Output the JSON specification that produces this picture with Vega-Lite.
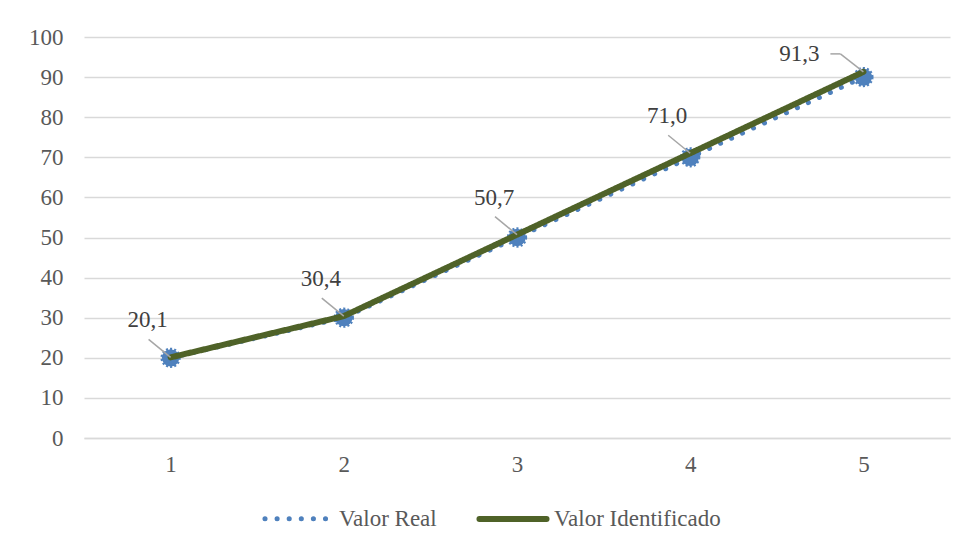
{
  "$schema": "https://vega.github.io/schema/vega-lite/v6.json",
  "width": 866,
  "height": 401,
  "autosize": {"type": "none"},
  "padding": {"left": 84, "top": 37, "right": 19, "bottom": 113},
  "background": "#ffffff",
  "config": {
    "view": {"stroke": null},
    "font": "Liberation Serif",
    "locale": {"number": {"decimal": ",", "thousands": ".", "grouping": [3], "currency": ["", " €"]}}
  },
  "data": {
    "values": [
      {"x": 1, "serie": "Valor Real", "valor": 20},
      {"x": 2, "serie": "Valor Real", "valor": 30},
      {"x": 3, "serie": "Valor Real", "valor": 50},
      {"x": 4, "serie": "Valor Real", "valor": 70},
      {"x": 5, "serie": "Valor Real", "valor": 90},
      {"x": 1, "serie": "Valor Identificado", "valor": 20.1},
      {"x": 2, "serie": "Valor Identificado", "valor": 30.4},
      {"x": 3, "serie": "Valor Identificado", "valor": 50.7},
      {"x": 4, "serie": "Valor Identificado", "valor": 71.0},
      {"x": 5, "serie": "Valor Identificado", "valor": 91.3}
    ]
  },
  "encoding": {
    "x": {
      "field": "x", "type": "quantitative",
      "scale": {"domain": [0.5, 5.5], "nice": false, "zero": false},
      "axis": {
        "title": null, "values": [1, 2, 3, 4, 5], "format": "d", "grid": false,
        "ticks": false, "domain": true, "domainColor": "#d9d9d9", "domainWidth": 1.3,
        "labelPadding": 15, "labelFontSize": 23, "labelFont": "Liberation Serif",
        "labelColor": "#595959"
      }
    },
    "y": {
      "field": "valor", "type": "quantitative",
      "scale": {"domain": [0, 100], "nice": false},
      "axis": {
        "title": null, "values": [0, 10, 20, 30, 40, 50, 60, 70, 80, 90, 100],
        "grid": true, "gridColor": "#d9d9d9", "gridWidth": 1.3,
        "ticks": false, "domain": false, "labelPadding": 21,
        "labelFontSize": 23, "labelFont": "Liberation Serif", "labelColor": "#595959"
      }
    }
  },
  "layer": [
    {
      "transform": [{"filter": "datum.serie === 'Valor Real'"}],
      "mark": {"type": "line", "strokeCap": "round"},
      "encoding": {
        "color": {
          "field": "serie", "type": "nominal",
          "scale": {"domain": ["Valor Real", "Valor Identificado"], "range": ["#4F81BD", "#4F6228"]},
          "legend": {
            "title": null, "orient": "none", "direction": "horizontal",
            "legendX": 178, "legendY": 445,
            "symbolType": "stroke", "symbolSize": 4500,
            "labelFontSize": 23, "labelFont": "Liberation Serif", "labelColor": "#595959",
            "labelOffset": 4, "columnPadding": 30, "labelLimit": 400,
            "encode": {"symbols": {"update": {"strokeCap": {"value": "round"}}}}
          }
        },
        "strokeDash": {
          "field": "serie", "type": "nominal",
          "scale": {"domain": ["Valor Real", "Valor Identificado"], "range": [[0.1, 12], [1, 0]]}
        },
        "strokeWidth": {
          "field": "serie", "type": "nominal",
          "scale": {"domain": ["Valor Real", "Valor Identificado"], "range": [5, 6]}
        }
      }
    },
    {
      "transform": [{"filter": "datum.serie === 'Valor Real'"}],
      "mark": {"type": "point", "shape": "circle", "filled": true, "size": 300, "fill": "#4F81BD", "stroke": "#4F81BD", "strokeWidth": 3, "strokeDash": [2, 2], "opacity": 1}
    },
    {
      "transform": [{"filter": "datum.serie === 'Valor Identificado'"}],
      "mark": {"type": "line", "strokeCap": "round", "strokeJoin": "round"},
      "encoding": {
        "color": {"field": "serie", "type": "nominal"},
        "strokeDash": {"field": "serie", "type": "nominal"},
        "strokeWidth": {"field": "serie", "type": "nominal"}
      }
    },
    {
      "transform": [{"filter": "datum.serie === 'Valor Identificado' && datum.x < 5"}],
      "mark": {"type": "rule", "color": "#a6a6a6", "strokeWidth": 1.5, "x2Offset": -22, "y2Offset": -18},
      "encoding": {"x2": {"field": "x"}, "y2": {"field": "valor"}}
    },
    {
      "transform": [{"filter": "datum.serie === 'Valor Identificado' && datum.x == 5"}],
      "mark": {"type": "rule", "color": "#a6a6a6", "strokeWidth": 1.5, "x2Offset": -23, "y2Offset": -18},
      "encoding": {"x2": {"field": "x"}, "y2": {"field": "valor"}}
    },
    {
      "transform": [{"filter": "datum.serie === 'Valor Identificado' && datum.x == 5"}],
      "mark": {"type": "rule", "color": "#a6a6a6", "strokeWidth": 1.5, "xOffset": -23, "yOffset": -18, "x2Offset": -33, "y2Offset": -18},
      "encoding": {"x2": {"field": "x"}, "y2": {"field": "valor"}}
    },
    {
      "transform": [{"filter": "datum.serie === 'Valor Identificado' && datum.x < 5"}],
      "mark": {"type": "text", "dx": -23, "dy": -37, "fontSize": 23, "font": "Liberation Serif", "color": "#404040", "baseline": "middle", "align": "center"},
      "encoding": {"text": {"field": "valor", "type": "quantitative", "format": ".1f"}}
    },
    {
      "transform": [{"filter": "datum.serie === 'Valor Identificado' && datum.x == 5"}],
      "mark": {"type": "text", "dx": -64, "dy": -18, "fontSize": 23, "font": "Liberation Serif", "color": "#404040", "baseline": "middle", "align": "center"},
      "encoding": {"text": {"field": "valor", "type": "quantitative", "format": ".1f"}}
    }
  ]
}
